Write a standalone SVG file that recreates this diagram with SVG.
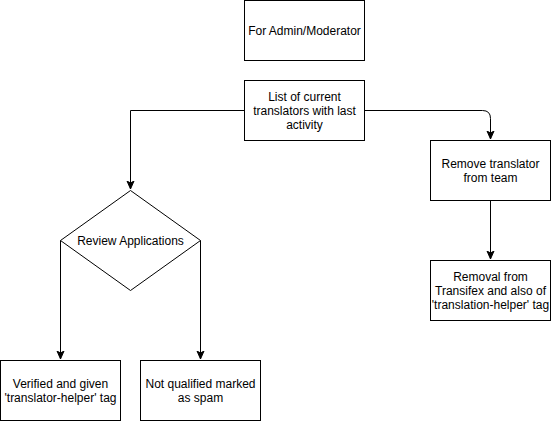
<svg xmlns="http://www.w3.org/2000/svg" width="551" height="421" viewBox="0 0 551 421">
<style>
.box{fill:#fff;stroke:#000;stroke-width:1}
.t{font-family:"Liberation Sans",Arial,Helvetica,sans-serif;font-size:12px;fill:#000;text-anchor:middle}
.c{fill:none;stroke:#000;stroke-width:1}
</style>
<defs>
<marker id="arr" markerWidth="10" markerHeight="10" refX="8" refY="4" orient="auto" markerUnits="userSpaceOnUse">
<path d="M0,0.5 L8,4 L0,7.5 L2,4 z" fill="#000" stroke="#000" stroke-width="1"/>
</marker>
</defs>
<rect width="551" height="421" fill="#fff"/>
<g id="connectors">
<path class="c" d="M244.5,110.5 H130.5 V189" marker-end="url(#arr)"/>
<path class="c" d="M364.5,110.5 H482.5 Q490.5,110.5 490.5,118.5 V139" marker-end="url(#arr)"/>
<path class="c" d="M490.5,200.5 V259" marker-end="url(#arr)"/>
<path class="c" d="M60.5,240.5 V359" marker-end="url(#arr)"/>
<path class="c" d="M200.5,240.5 V359" marker-end="url(#arr)"/>
</g>
<g id="admin">
<rect class="box" x="244.5" y="0.5" width="120" height="60"/>
<text class="t" x="304.5" y="35">For Admin/Moderator</text>
</g>
<g id="list">
<rect class="box" x="244.5" y="80.5" width="120" height="60"/>
<text class="t" x="304.5" y="101">List of current</text>
<text class="t" x="304.5" y="115">translators with last</text>
<text class="t" x="304.5" y="129">activity</text>
</g>
<g id="review">
<path class="box" d="M130.5,190.5 L200.5,240.5 L130.5,290.5 L60.5,240.5 Z"/>
<text class="t" x="130.5" y="245">Review Applications</text>
</g>
<g id="remove">
<rect class="box" x="430.5" y="140.5" width="120" height="60"/>
<text class="t" x="490.5" y="168">Remove translator</text>
<text class="t" x="490.5" y="182">from team</text>
</g>
<g id="removal">
<rect class="box" x="430.5" y="260.5" width="120" height="60"/>
<text class="t" x="490.5" y="281">Removal from</text>
<text class="t" x="490.5" y="295">Transifex and also of</text>
<text class="t" x="490.5" y="309">'translation-helper' tag</text>
</g>
<g id="verified">
<rect class="box" x="0.5" y="360.5" width="120" height="60"/>
<text class="t" x="60.5" y="388">Verified and given</text>
<text class="t" x="60.5" y="402">'translator-helper' tag</text>
</g>
<g id="spam">
<rect class="box" x="140.5" y="360.5" width="120" height="60"/>
<text class="t" x="200.5" y="388">Not qualified marked</text>
<text class="t" x="200.5" y="402">as spam</text>
</g>
</svg>
